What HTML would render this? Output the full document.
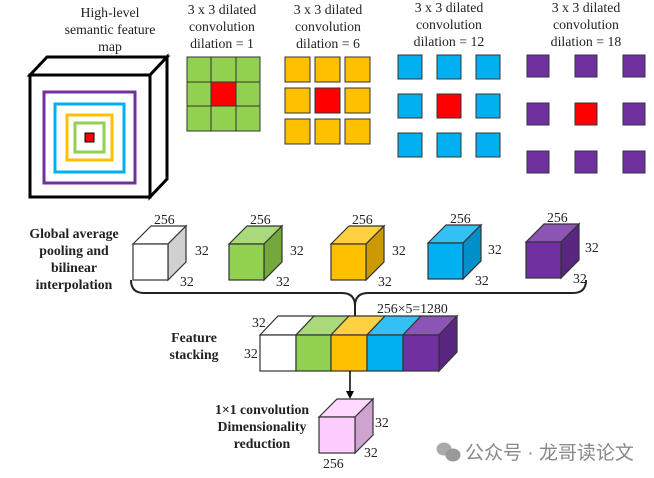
<!DOCTYPE html>
<html><head><meta charset="utf-8"><style>
html,body{margin:0;padding:0;background:#fff}
svg{display:block}
text{font-family:"Liberation Serif",serif;font-size:13.8px;fill:#222}
.b{font-weight:bold}
</style></head><body>
<svg width="654" height="478" viewBox="0 0 654 478" xmlns="http://www.w3.org/2000/svg">
<g text-anchor="middle">
<text x="110" y="17">High-level</text><text x="110" y="34">semantic feature</text><text x="110" y="51">map</text>
<text x="222" y="14">3 x 3 dilated</text><text x="222" y="31">convolution</text><text x="222" y="48">dilation = 1</text>
<text x="328" y="14">3 x 3 dilated</text><text x="328" y="31">convolution</text><text x="328" y="48">dilation = 6</text>
<text x="449" y="12">3 x 3 dilated</text><text x="449" y="29">convolution</text><text x="449" y="46">dilation = 12</text>
<text x="586" y="12">3 x 3 dilated</text><text x="586" y="29">convolution</text><text x="586" y="46">dilation = 18</text>
</g>
<g stroke="#000" stroke-width="3" fill="#fff" stroke-linejoin="miter">
<polygon points="30,75 47,57 167,57 150,75"/>
<polygon points="150,75 167,57 167,179 150,197"/>
<rect x="30" y="75" width="120" height="122"/>
</g>
<g fill="none" stroke-width="3">
<rect x="44" y="92" width="91" height="91" stroke="#7030a0"/>
<rect x="55" y="104" width="69" height="68" stroke="#00b0f0"/>
<rect x="67" y="115" width="45" height="45" stroke="#ffc000"/>
<rect x="75" y="123" width="29" height="29" stroke="#92d050"/>
</g>
<rect x="85" y="133" width="9" height="9" fill="#f00" stroke="#000" stroke-width="1"/>
<g stroke="#333" stroke-width="1">
<rect x="187" y="57" width="73" height="74" fill="#92d050"/>
<line x1="211" y1="57" x2="211" y2="131"/><line x1="236" y1="57" x2="236" y2="131"/>
<line x1="187" y1="82" x2="260" y2="82"/><line x1="187" y1="106" x2="260" y2="106"/>
<rect x="211" y="82" width="25" height="24" fill="#f00"/>
</g>
<g stroke="#333" stroke-width="1" fill="#ffc000">
<rect x="285" y="57" width="25" height="25"/><rect x="315" y="57" width="25" height="25"/><rect x="345" y="57" width="25" height="25"/>
<rect x="285" y="88" width="25" height="25"/><rect x="315" y="88" width="25" height="25" fill="#f00"/><rect x="345" y="88" width="25" height="25"/>
<rect x="285" y="119" width="25" height="25"/><rect x="315" y="119" width="25" height="25"/><rect x="345" y="119" width="25" height="25"/>
</g>
<g stroke="#333" stroke-width="1" fill="#00b0f0">
<rect x="398" y="55" width="24" height="24"/><rect x="437" y="55" width="24" height="24"/><rect x="476" y="55" width="24" height="24"/>
<rect x="398" y="94" width="24" height="24"/><rect x="437" y="94" width="24" height="24" fill="#f00"/><rect x="476" y="94" width="24" height="24"/>
<rect x="398" y="133" width="24" height="24"/><rect x="437" y="133" width="24" height="24"/><rect x="476" y="133" width="24" height="24"/>
</g>
<g stroke="#333" stroke-width="1" fill="#7030a0">
<rect x="527" y="55" width="22" height="22"/><rect x="575" y="55" width="22" height="22"/><rect x="623" y="55" width="22" height="22"/>
<rect x="527" y="103" width="22" height="22"/><rect x="575" y="103" width="22" height="22" fill="#f00"/><rect x="623" y="103" width="22" height="22"/>
<rect x="527" y="151" width="22" height="22"/><rect x="575" y="151" width="22" height="22"/><rect x="623" y="151" width="22" height="22"/>
</g>
<g text-anchor="middle">
<text x="74" y="238" class="b">Global average</text><text x="74" y="255" class="b">pooling and</text><text x="74" y="272" class="b">bilinear</text><text x="74" y="289" class="b">interpolation</text>
<text x="194" y="342" class="b">Feature</text><text x="194" y="359" class="b">stacking</text>
<text x="262" y="414" class="b">1×1 convolution</text><text x="262" y="431" class="b">Dimensionality</text><text x="262" y="448" class="b">reduction</text>
</g>
<g stroke="#333" stroke-width="1.2">
<g><polygon points="133,244 151,226 186,226 168,244" fill="#fff"/><polygon points="168,244 186,226 186,262 168,280" fill="#d0d0d0"/><rect x="133" y="244" width="35" height="36" fill="#fff"/></g>
<g><polygon points="229,244 247,226 282,226 264,244" fill="#a9d97a"/><polygon points="264,244 282,226 282,262 264,280" fill="#74a83d"/><rect x="229" y="244" width="35" height="36" fill="#92d050"/></g>
<g><polygon points="331,244 349,226 384,226 366,244" fill="#ffd040"/><polygon points="366,244 384,226 384,262 366,280" fill="#cc9a00"/><rect x="331" y="244" width="35" height="36" fill="#ffc000"/></g>
<g><polygon points="428,243 446,225 481,225 463,243" fill="#33c0f2"/><polygon points="463,243 481,225 481,261 463,279" fill="#0090c8"/><rect x="428" y="243" width="35" height="36" fill="#00b0f0"/></g>
<g><polygon points="526,242 544,224 579,224 561,242" fill="#8a55b5"/><polygon points="561,242 579,224 579,260 561,278" fill="#582680"/><rect x="526" y="242" width="35" height="36" fill="#7030a0"/></g>
</g>
<g>
<text x="154" y="224">256</text><text x="195" y="255">32</text><text x="180" y="286">32</text>
<text x="250" y="224">256</text><text x="290" y="255">32</text><text x="276" y="286">32</text>
<text x="352" y="224">256</text><text x="392" y="255">32</text><text x="378" y="286">32</text>
<text x="450" y="223">256</text><text x="488" y="254">32</text><text x="475" y="285">32</text>
<text x="547" y="222">256</text><text x="585" y="252">32</text><text x="573" y="283">32</text>
</g>
<path d="M131,280 Q131,293 144,293 L342,293 Q355,293 355,306 Q355,293 368,293 L573,293 Q586,293 586,280" fill="none" stroke="#222" stroke-width="2"/>
<line x1="355" y1="305" x2="355" y2="316" stroke="#222" stroke-width="2"/>
<g stroke="#333" stroke-width="1.2">
<polygon points="260,335 278,316 314,316 296,335" fill="#fff"/>
<polygon points="296,335 314,316 349,316 331,335" fill="#a9d97a"/>
<polygon points="331,335 349,316 385,316 367,335" fill="#ffd040"/>
<polygon points="367,335 385,316 421,316 403,335" fill="#33c0f2"/>
<polygon points="403,335 421,316 457,316 439,335" fill="#8a55b5"/>
<polygon points="439,335 457,316 457,352 439,371" fill="#582680"/>
<rect x="260" y="335" width="36" height="36" fill="#fff"/>
<rect x="296" y="335" width="35" height="36" fill="#92d050"/>
<rect x="331" y="335" width="36" height="36" fill="#ffc000"/>
<rect x="367" y="335" width="36" height="36" fill="#00b0f0"/>
<rect x="403" y="335" width="36" height="36" fill="#7030a0"/>
</g>
<text x="377" y="313">256×5=1280</text>
<text x="252" y="327">32</text><text x="244" y="358">32</text>
<line x1="350" y1="371" x2="350" y2="392" stroke="#000" stroke-width="1.5"/>
<polygon points="346,391 354,391 350,399" fill="#000"/>
<g stroke="#333" stroke-width="1.2">
<polygon points="319,417 337,399 373,399 355,417" fill="#ffd9ff"/>
<polygon points="355,417 373,399 373,435 355,453" fill="#cfa3cf"/>
<rect x="319" y="417" width="36" height="36" fill="#ffccff"/>
</g>
<text x="375" y="427">32</text><text x="364" y="457">32</text><text x="323" y="468">256</text>
<g><ellipse cx="444" cy="449" rx="7.5" ry="6.5" fill="#aaa"/><ellipse cx="453" cy="455" rx="7.5" ry="6.5" fill="#999"/></g>
<text x="465" y="459" style="font-family:'Liberation Sans','Noto Sans CJK SC',sans-serif;font-size:19px;fill:#888">公众号 · 龙哥读论文</text>
</svg>
</body></html>
